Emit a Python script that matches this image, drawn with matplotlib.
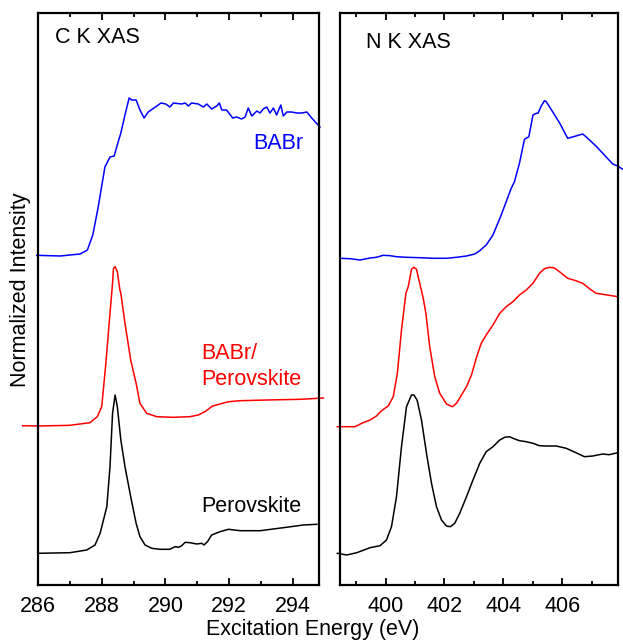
import matplotlib
matplotlib.use("Agg")
import matplotlib.pyplot as plt
from matplotlib.ticker import MultipleLocator

plt.rcParams['font.family'] = ['Liberation Sans', 'DejaVu Sans']

# ---- C K XAS data ----
c_babr_E = [285.96, 286.69, 287.32, 287.55, 287.72, 287.89, 288.10, 288.26, 288.39, 288.47, 288.60, 288.73,
            288.86, 288.94, 289.08, 289.20, 289.33, 289.46, 289.73, 289.86, 290.01, 290.14, 290.25, 290.51,
            290.62, 290.72, 290.82, 291.03, 291.19, 291.30, 291.45, 291.61, 291.69, 291.77, 291.92, 292.11,
            292.24, 292.39, 292.50, 292.60, 292.71, 292.87, 292.97, 293.07, 293.18, 293.28, 293.39, 293.49,
            293.62, 293.70, 293.81, 293.96, 294.12, 294.28, 294.44, 294.59, 294.85]
c_babr_I = [3.297, 3.29, 3.31, 3.35, 3.50, 3.78, 4.18, 4.28, 4.29, 4.38, 4.52, 4.70,
            4.87, 4.85, 4.85, 4.75, 4.67, 4.73, 4.79, 4.82, 4.81, 4.78, 4.82, 4.81,
            4.82, 4.79, 4.82, 4.81, 4.78, 4.81, 4.76, 4.79, 4.82, 4.75, 4.75, 4.67,
            4.68, 4.66, 4.68, 4.77, 4.69, 4.74, 4.72, 4.76, 4.78, 4.72, 4.77, 4.70,
            4.80, 4.69, 4.73, 4.73, 4.72, 4.72, 4.73, 4.67, 4.58]

c_mix_E = [285.52, 286.06, 287.00, 287.63, 287.86, 288.00, 288.13, 288.26, 288.34, 288.37, 288.42, 288.49,
           288.57, 288.60, 288.73, 288.91, 289.08, 289.20, 289.41, 289.73, 290.25, 290.77, 291.03, 291.24,
           291.48, 291.71, 291.98, 292.34, 293.18, 294.23, 294.96]
c_mix_I = [1.593, 1.59, 1.597, 1.623, 1.683, 1.783, 2.217, 2.717, 3.017, 3.167, 3.183, 3.133,
           2.95, 2.917, 2.617, 2.25, 2.017, 1.817, 1.717, 1.683, 1.677, 1.683, 1.70, 1.733,
           1.79, 1.81, 1.833, 1.843, 1.85, 1.857, 1.87]

c_pero_E = [286.00, 287.00, 287.53, 287.79, 287.95, 288.16, 288.26, 288.34, 288.42, 288.49, 288.60, 288.73,
            288.91, 289.08, 289.20, 289.36, 289.57, 289.83, 290.14, 290.30, 290.41, 290.51, 290.62, 290.77,
            290.98, 291.14, 291.21, 291.32, 291.45, 291.71, 291.98, 292.34, 292.97, 293.70, 294.33, 294.75]
c_pero_I = [0.317, 0.323, 0.35, 0.40, 0.517, 0.783, 1.183, 1.717, 1.90, 1.783, 1.45, 1.183,
            0.883, 0.617, 0.483, 0.40, 0.367, 0.357, 0.357, 0.383, 0.377, 0.393, 0.427, 0.423,
            0.41, 0.417, 0.40, 0.433, 0.50, 0.533, 0.557, 0.543, 0.543, 0.573, 0.60, 0.607]

# ---- N K XAS data ----
n_babr_E = [398.45, 398.79, 399.13, 399.47, 399.69, 399.92, 400.15, 400.37, 400.71, 401.16, 401.62, 402.07,
            402.41, 402.75, 403.03, 403.20, 403.42, 403.65, 403.93, 404.10, 404.27, 404.38, 404.55, 404.72,
            404.87, 405.01, 405.12, 405.18, 405.29, 405.40, 405.46, 405.57, 405.91, 406.19, 406.47, 406.70,
            406.81, 407.15, 407.49, 407.72, 407.89, 408.06]
n_babr_I = [3.267, 3.263, 3.25, 3.27, 3.277, 3.297, 3.293, 3.283, 3.277, 3.273, 3.267, 3.267,
            3.277, 3.29, 3.31, 3.343, 3.40, 3.50, 3.70, 3.833, 3.967, 4.033, 4.217, 4.457,
            4.483, 4.70, 4.717, 4.717, 4.79, 4.843, 4.833, 4.783, 4.623, 4.467, 4.49, 4.51,
            4.483, 4.39, 4.283, 4.21, 4.19, 4.157]

n_mix_E = [398.36, 398.96, 399.19, 399.47, 399.69, 399.86, 400.09, 400.26, 400.40, 400.54, 400.69, 400.77,
           400.88, 400.96, 401.05, 401.16, 401.28, 401.37, 401.50, 401.67, 401.84, 402.07, 402.27, 402.41,
           402.58, 402.75, 402.92, 403.08, 403.25, 403.42, 403.65, 403.88, 404.10, 404.33, 404.55, 404.78,
           405.01, 405.23, 405.40, 405.57, 405.74, 405.91, 406.19, 406.47, 406.70, 406.87, 407.15, 407.32,
           407.60, 407.89]
n_mix_I = [1.583, 1.583, 1.617, 1.65, 1.69, 1.743, 1.79, 1.883, 2.117, 2.55, 2.917, 2.983,
           3.157, 3.177, 3.157, 3.017, 2.867, 2.717, 2.383, 2.083, 1.917, 1.81, 1.783, 1.817,
           1.90, 1.983, 2.10, 2.267, 2.417, 2.50, 2.60, 2.717, 2.783, 2.833, 2.90, 2.95,
           3.017, 3.117, 3.163, 3.177, 3.17, 3.133, 3.067, 3.043, 3.017, 2.977, 2.917, 2.91,
           2.897, 2.883]

n_pero_E = [398.36, 398.68, 399.02, 399.47, 399.81, 400.03, 400.20, 400.37, 400.54, 400.71, 400.88, 400.96,
            401.07, 401.22, 401.39, 401.56, 401.73, 401.90, 402.07, 402.20, 402.35, 402.52, 402.75, 402.97,
            403.20, 403.42, 403.65, 403.88, 404.05, 404.21, 404.33, 404.55, 404.78, 405.01, 405.23, 405.46,
            405.80, 406.14, 406.47, 406.76, 407.04, 407.38, 407.60, 407.89]
n_pero_I = [0.317, 0.30, 0.323, 0.373, 0.393, 0.45, 0.583, 0.883, 1.383, 1.783, 1.90, 1.90,
            1.85, 1.65, 1.317, 1.017, 0.783, 0.65, 0.59, 0.583, 0.617, 0.717, 0.883, 1.05,
            1.217, 1.333, 1.383, 1.45, 1.477, 1.483, 1.467, 1.443, 1.433, 1.417, 1.393, 1.39,
            1.39, 1.367, 1.323, 1.283, 1.29, 1.31, 1.303, 1.323]

c_ticks = [286, 288, 290, 292, 294]
n_ticks = [400, 402, 404, 406]

fig = plt.figure(figsize=(6.23, 6.41), dpi=100)
W, H = 623, 641
axL = fig.add_axes([38 / W, 56 / H, 281 / W, 572 / H])
axR = fig.add_axes([340 / W, 56 / H, 278 / W, 572 / H])

fs = 15.5
lw = 1.1
for ax in (axL, axR):
    ax.set_ylim(0, 5.72)
    ax.set_yticks([])
    for s in ax.spines.values():
        s.set_linewidth(1.6)
    ax.tick_params(axis='x', which='both', direction='in', top=True, bottom=True,
                   labelsize=fs, width=1.3, pad=8)
    ax.tick_params(axis='x', which='major', length=5)
    ax.tick_params(axis='x', which='minor', length=3)
    ax.xaxis.set_minor_locator(MultipleLocator(1))

axL.set_xlim(286, 294.82)
axL.set_xticks(c_ticks)
axL.plot(c_babr_E, c_babr_I, color='#0000ff', lw=lw, clip_on=False)
axL.plot(c_mix_E, c_mix_I, color='#ff0000', lw=lw, clip_on=False)
axL.plot(c_pero_E, c_pero_I, color='black', lw=lw, clip_on=False)
axL.text(0.06, 0.957, 'C K XAS', transform=axL.transAxes, fontsize=fs, va='center', ha='left')
axL.text(292.75, 4.41, 'BABr', color='#0000ff', fontsize=fs, va='center', ha='left')
axL.text(291.12, 2.185, 'BABr/\nPerovskite', color='#ff0000', fontsize=fs, va='center', ha='left',
         linespacing=1.3)
axL.text(291.12, 0.78, 'Perovskite', color='black', fontsize=fs, va='center', ha='left')

axR.set_xlim(398.45, 407.9)
axR.set_xticks(n_ticks)
axR.plot(n_babr_E, n_babr_I, color='#0000ff', lw=lw, clip_on=False)
axR.plot(n_mix_E, n_mix_I, color='#ff0000', lw=lw, clip_on=False)
axR.plot(n_pero_E, n_pero_I, color='black', lw=lw, clip_on=False)
axR.text(0.095, 0.948, 'N K XAS', transform=axR.transAxes, fontsize=fs, va='center', ha='left')

fig.text(21 / W, (641 - 290) / H, 'Normalized Intensity', rotation=90,
         fontsize=fs, va='center', ha='center')
fig.text(313 / W, 12 / H, 'Excitation Energy (eV)', fontsize=fs, va='center', ha='center')

fig.savefig('out.png', dpi=100)
